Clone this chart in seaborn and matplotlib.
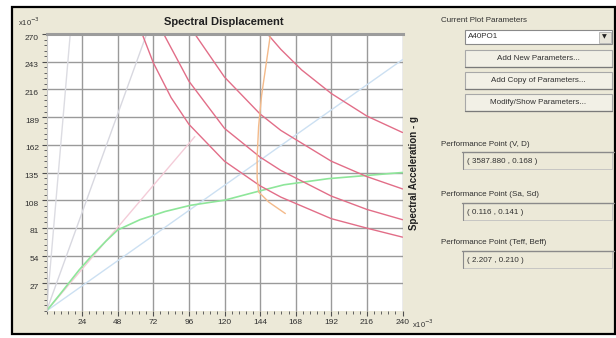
"""Capacity spectrum plot (pushover, ATC-40 style) with the side parameter panel."""

import matplotlib
matplotlib.use("Agg")

import matplotlib.pyplot as plt
from matplotlib.patches import Rectangle
from matplotlib.ticker import MultipleLocator
from matplotlib.transforms import ScaledTranslation
import pandas as pd
import seaborn as sns

# ---- data (Sd in 1e-3 m, Sa in 1e-3 g) ----
x_ticks = [24, 48, 72, 96, 120, 144, 168, 192, 216, 240]
y_ticks = [27, 54, 81, 108, 135, 162, 189, 216, 243, 270]

capacity_sd = [0, 10, 22, 30, 40, 48, 63, 80, 97, 120, 141, 160, 190, 215, 240]
capacity_sa = [0, 18, 40, 53, 68, 79, 89, 97, 103, 108, 116, 123, 129, 132, 135]

demand1_sd = [64.5, 72, 84, 96, 120, 144, 158, 192, 218, 240]
demand1_sa = [270, 242, 208, 182, 146, 122, 111, 90, 80, 72]
demand2_sd = [79, 96, 120, 144, 158, 192, 216, 240]
demand2_sa = [270, 224, 178, 150, 137, 112, 99, 89]
demand3_sd = [100, 120, 144, 158, 192, 216, 240]
demand3_sa = [270, 228, 192, 176, 146, 131, 119]
demand4_sd = [149, 158, 172, 192, 216, 240]
demand4_sa = [270, 255, 235, 212, 190, 174]

var_damp_sd = [151, 148, 145, 143, 142, 142, 143, 150, 161]
var_damp_sa = [270, 240, 210, 180, 150, 130, 116, 106, 95]

# radial period lines from the origin, end points
period_end_sd = [16, 67.5, 100, 240]
period_end_sa = [270, 270, 170, 245]
period_colors = ["#dcdce2", "#d8d8e0", "#f4ccd8", "#cce0f2"]

panel_labels = ["Performance Point (V, D)", "Performance Point (Sa, Sd)",
                "Performance Point (Teff, Beff)"]
panel_values = ["( 3587.880 , 0.168 )", "( 0.116 , 0.141 )", "( 2.207 , 0.210 )"]
buttons = ["Add New Parameters...", "Add Copy of Parameters...",
           "Modify/Show Parameters..."]

BEIGE = "#ece9d8"
W, H = 616, 338

sns.set_style("white")
plt.rcParams["font.family"] = ["Liberation Sans", "DejaVu Sans"]

fig = plt.figure(figsize=(W / 100, H / 100), dpi=100, facecolor="white")

# background / widget layer in pixel coordinates
bg = fig.add_axes([0, 0, 1, 1])
bg.set_xlim(0, W)
bg.set_ylim(H, 0)
bg.axis("off")
bg.add_patch(Rectangle((12, 7), 603, 327, facecolor=BEIGE, edgecolor="black", lw=1.6))

# ---- plot axes ----
x0, x1, y0, y1 = 46.5, 402.5, 34, 311
ax = fig.add_axes([x0 / W, (H - y1) / H, (x1 - x0) / W, (y1 - y0) / H])
ax.set_zorder(2)
ax.set_facecolor("white")

for sd_end, sa_end, c in zip(period_end_sd, period_end_sa, period_colors):
    sns.lineplot(x=[0, sd_end], y=[0, sa_end], ax=ax, color=c, lw=1.0)

curves = [
    (capacity_sd, capacity_sa, "#8ee69a", 1.2),
    (demand1_sd, demand1_sa, "#e26e88", 1.0),
    (demand2_sd, demand2_sa, "#e26e88", 1.0),
    (demand3_sd, demand3_sa, "#e26e88", 1.0),
    (demand4_sd, demand4_sa, "#e26e88", 1.0),
    (var_damp_sd, var_damp_sa, "#f4ba8a", 1.0),
]
for sd, sa, c, lw in curves:
    df = pd.DataFrame({"sd": sd, "sa": sa})
    sns.lineplot(data=df, x="sd", y="sa", ax=ax, color=c, lw=lw,
                 sort=False, estimator=None)

ax.set_xlim(0, 240)
ax.set_ylim(0, 270)
ax.set_xticks(x_ticks)
ax.set_yticks(y_ticks)
ax.xaxis.set_minor_locator(MultipleLocator(4.8))
ax.yaxis.set_minor_locator(MultipleLocator(5.4))
ax.grid(True, which="major", color="#9a9a9a", lw=1.0)
ax.tick_params(which="major", direction="out", length=3.5, width=0.8,
               color="#505050", labelsize=6, labelcolor="#303030", pad=2)
ax.tick_params(which="minor", direction="out", length=2, width=0.7, color="#606060")
ax.tick_params(axis="both", which="both", bottom=True, left=True)
ax.set_xlabel("")
ax.set_ylabel("")
for lab in ax.get_yticklabels():
    lab.set_transform(lab.get_transform() + ScaledTranslation(0, -3 / 100, fig.dpi_scale_trans))

for side in ["right", "bottom"]:
    ax.spines[side].set_visible(False)
ax.spines["left"].set(color="#c8c8c8", lw=0.8)
ax.spines["top"].set(color="#9c9c9c", lw=2.2)

ax.yaxis.set_label_position("right")
ax.set_ylabel("Spectral Acceleration - g", fontsize=7, fontweight="bold",
              color="#202020", labelpad=5)

bg.text(224, 22, "Spectral Displacement", ha="center", va="center",
        fontsize=8, fontweight="bold", color="#202020")
bg.text(18, 22, r"x10$^{-3}$", ha="left", va="center", fontsize=5.5, color="#303030")
bg.text(412, 324, r"x10$^{-3}$", ha="left", va="center", fontsize=5.5, color="#303030")

# ---- side panel ----
fs = 5.8
bg.text(441, 20, "Current Plot Parameters", ha="left", va="center", fontsize=fs, color="#303030")
bg.add_patch(Rectangle((465, 30), 147, 14, facecolor="white", edgecolor="#8a8a8a", lw=0.8))
bg.add_patch(Rectangle((599, 31.5), 11.5, 11, facecolor="#e8e5da", edgecolor="#b0b0b0", lw=0.6))
bg.text(604.8, 37.2, "▼", ha="center", va="center", fontsize=4.5, color="#202020",
        family=["DejaVu Sans"])
bg.text(468, 37, "A40PO1", ha="left", va="center", fontsize=fs, color="#303030")

for i, label in enumerate(buttons):
    top = 50 + 22 * i
    bg.add_patch(Rectangle((465, top), 147, 17, facecolor="#f2f0e6", edgecolor="#a8a8a8", lw=0.8))
    bg.plot([465, 612], [top + 17, top + 17], color="#7a7a7a", lw=0.9)
    bg.text(538.5, top + 9, label, ha="center", va="center", fontsize=fs, color="#303030")

label_y = [145, 195, 243]
box_y = [152, 203, 251]
for label, value, ly, by in zip(panel_labels, panel_values, label_y, box_y):
    bg.text(441, ly, label, ha="left", va="center", fontsize=fs, color="#303030")
    bg.add_patch(Rectangle((463, by), 149, 17, facecolor=BEIGE, edgecolor="#c0c0c0", lw=0.6))
    bg.plot([462, 614], [by, by], color="#8a8a8a", lw=1.0)
    bg.plot([463, 463], [by, by + 17], color="#8a8a8a", lw=0.8)
    bg.text(467, by + 9.5, value, ha="left", va="center", fontsize=fs, color="#303030")

fig.savefig("out.png", dpi=100, facecolor=fig.get_facecolor())
